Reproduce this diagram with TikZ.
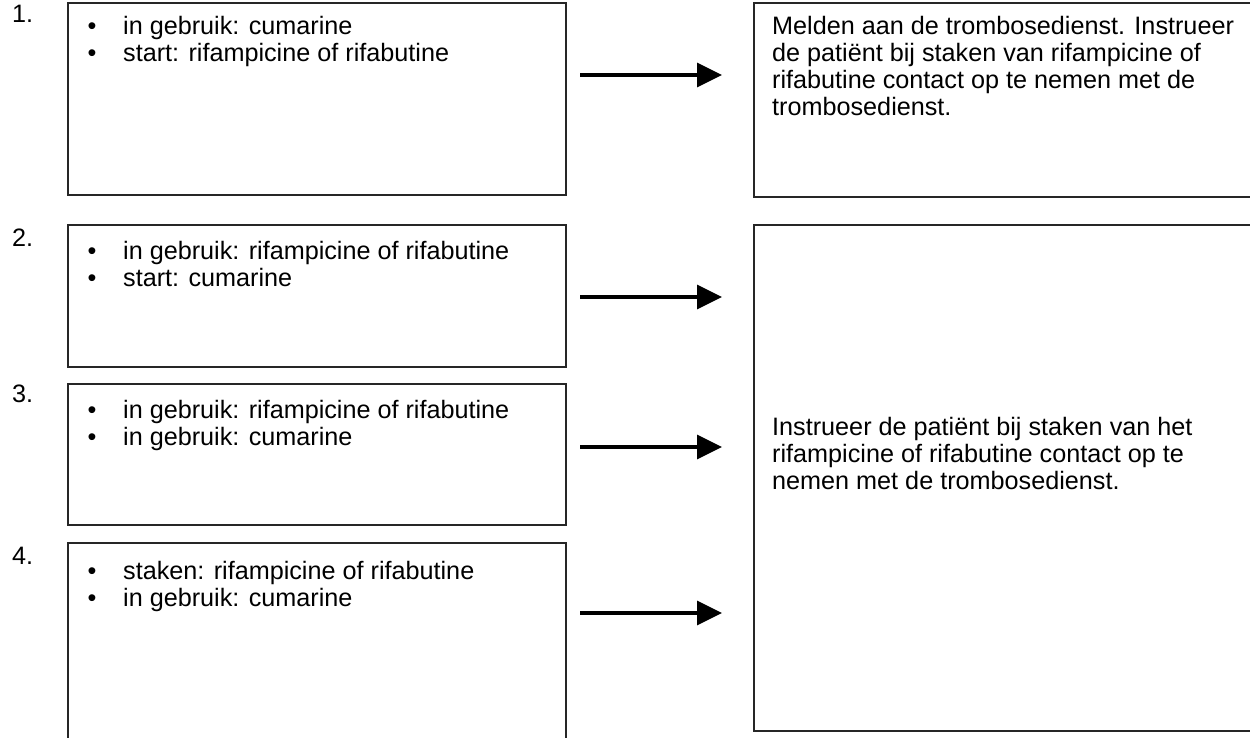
\documentclass[tikz,border=0pt]{standalone}
\usepackage{fontspec}
\setmainfont{Liberation Sans}
\usetikzlibrary{arrows.meta}
\begin{document}
\begin{tikzpicture}[x=1pt,y=-1pt,
  box/.style={draw=black!85, line width=1.8pt, rectangle, outer sep=0pt, inner sep=0pt, anchor=north west},
  txt/.style={anchor=base west, inner sep=0pt, font=\fontsize{25.2}{27}\selectfont},
  bul/.style={anchor=base, inner sep=0pt, font=\fontsize{25.2}{27}\selectfont},
  para/.style={anchor=base west, inner sep=0pt, align=left, font=\fontsize{25.2}{27}\selectfont},
  arr/.style={line width=3.5pt, black, -{Triangle[length=25pt,width=24pt]}, shorten >=32pt}]
\useasboundingbox (0,0) rectangle (1250,737);
\clip (0,0) rectangle (1250,737);
% left boxes
\node[box, minimum width=498pt, minimum height=192pt] (b1) at (68,3) {};
\node[box, minimum width=498pt, minimum height=142pt] (b2) at (68,225) {};
\node[box, minimum width=498pt, minimum height=141pt] (b3) at (68,384) {};
\node[box, minimum width=498pt, minimum height=240pt] (b4) at (68,543) {};
% right boxes
\node[box, minimum width=520pt, minimum height=194pt] (r1) at (754,3) {};
\node[box, minimum width=520pt, minimum height=506pt] (r2) at (754,225) {};
% numbers
\node[txt] (n1) at (12,22) {1.};
\node[txt] (n2) at (12,246) {2.};
\node[txt] (n3) at (12,402) {3.};
\node[txt] (n4) at (12,564) {4.};
% box 1
\node[bul] (p1a) at (92,34) {\textbullet};
\node[txt] (t1a) at (123,34) {in gebruik: cumarine};
\node[bul] (p1b) at (92,61) {\textbullet};
\node[txt] (t1b) at (123,61) {start: rifampicine of rifabutine};
% box 2
\node[bul] (p2a) at (92,259) {\textbullet};
\node[txt] (t2a) at (123,259) {in gebruik: rifampicine of rifabutine};
\node[bul] (p2b) at (92,286) {\textbullet};
\node[txt] (t2b) at (123,286) {start: cumarine};
% box 3
\node[bul] (p3a) at (92,418) {\textbullet};
\node[txt] (t3a) at (123,418) {in gebruik: rifampicine of rifabutine};
\node[bul] (p3b) at (92,445) {\textbullet};
\node[txt] (t3b) at (123,445) {in gebruik: cumarine};
% box 4
\node[bul] (p4a) at (92,579) {\textbullet};
\node[txt] (t4a) at (123,579) {staken: rifampicine of rifabutine};
\node[bul] (p4b) at (92,606) {\textbullet};
\node[txt] (t4b) at (123,606) {in gebruik: cumarine};
% right texts (base anchor = last line)
\node[para] (tr1) at (772,115) {Melden aan de trombosedienst. Instrueer\\de patiënt bij staken van rifampicine of\\rifabutine contact op te nemen met de\\trombosedienst.};
\node[para] (tr2) at (772,489) {Instrueer de patiënt bij staken van het\\rifampicine of rifabutine contact op te\\nemen met de trombosedienst.};
% arrows
\coordinate (s1) at (580,75);
\coordinate (s2) at (580,297);
\coordinate (s3) at (580,447);
\coordinate (s4) at (580,613);
\draw[arr] (s1) -- (s1 -| r1.west);
\draw[arr] (s2) -- (s2 -| r2.west);
\draw[arr] (s3) -- (s3 -| r2.west);
\draw[arr] (s4) -- (s4 -| r2.west);
\end{tikzpicture}
\end{document}
